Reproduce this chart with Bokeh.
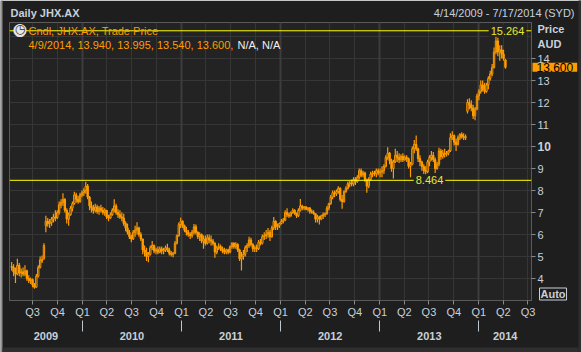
import pandas as pd
from bokeh.plotting import figure
from bokeh.layouts import column
from bokeh.models import (Range1d, FixedTicker, LinearAxis, Span, Label, Grid,
                          ColumnDataSource, Column, BoxAnnotation)
from bokeh.embed import file_html
from bokeh.resources import INLINE

# ---------------- data ----------------
TITLE = "Daily JHX.AX"
DATE_RANGE = "4/14/2009 - 7/17/2014 (SYD)"
LEGEND_1 = "Cndl, JHX.AX, Trade Price"
LEGEND_2 = "4/9/2014, 13.940, 13.995, 13.540, 13.600, "
LEGEND_NA = "N/A, N/A"
HIGH_LEVEL = 15.264
LOW_LEVEL = 8.464
LAST_PRICE = 13.600
Y_TICKS = [4, 5, 6, 7, 8, 9, 10, 11, 12, 13, 14]
Y_GRID = [4, 5, 6, 7, 8, 9, 10, 11, 12, 13, 14, 15]
YEAR_LABELS = ["2009", "2010", "2011", "2012", "2013", "2014"]
AXIS_START = "2009-04-07"
AXIS_END = "2014-07-14"
FIRST_WEEK = "2009-04-15"   # weekly candles (Wednesdays)
LAST_WEEK = "2014-04-09"

# weekly (open, high, low, close)
ohlc_2009 = [
    (4.55, 4.75, 4.35, 4.50), (4.50, 4.65, 4.10, 4.30), (4.30, 4.50, 3.80, 4.20),
    (4.20, 4.90, 4.15, 4.60), (4.60, 4.70, 4.10, 4.25), (4.25, 4.45, 4.05, 4.30),
    (4.30, 4.50, 4.10, 4.20), (4.20, 4.60, 4.10, 4.35), (4.35, 4.40, 3.90, 4.00),
    (4.00, 4.15, 3.80, 3.90), (3.90, 4.05, 3.75, 3.95), (3.95, 4.00, 3.60, 3.70),
    (3.70, 3.80, 3.53, 3.60), (3.60, 4.20, 3.60, 4.10), (4.10, 4.60, 4.05, 4.50),
    (4.50, 5.00, 4.45, 4.85), (4.85, 5.05, 4.70, 4.80), (4.90, 5.60, 4.85, 5.50),
    (6.40, 6.85, 6.10, 6.60), (6.60, 6.75, 6.35, 6.50), (6.50, 6.70, 6.30, 6.55),
    (6.55, 6.80, 6.40, 6.70), (6.70, 6.95, 6.55, 6.80), (6.80, 7.10, 6.60, 6.75),
    (6.75, 7.10, 6.70, 7.00), (7.00, 7.50, 6.90, 7.35), (7.35, 7.60, 7.20, 7.45),
    (7.45, 7.88, 7.30, 7.60), (7.60, 7.65, 7.00, 7.10), (7.10, 7.20, 6.50, 6.70),
    (6.70, 7.00, 6.40, 6.90), (6.90, 7.30, 6.85, 7.20), (7.20, 7.50, 7.05, 7.40),
    (7.40, 7.95, 7.35, 7.80), (7.80, 7.90, 7.45, 7.60), (7.60, 7.75, 7.40, 7.50),
    (7.50, 7.90, 7.45, 7.80), (7.80, 8.00, 7.70, 7.90),
]
ohlc_2010 = [
    (7.90, 8.10, 7.75, 8.00), (8.00, 8.40, 7.85, 8.20), (8.20, 8.30, 7.60, 7.70),
    (7.70, 7.75, 7.10, 7.30), (7.30, 7.50, 7.00, 7.20), (7.20, 7.35, 6.95, 7.10),
    (7.10, 7.40, 7.00, 7.25), (7.25, 7.35, 6.95, 7.05), (7.05, 7.30, 6.90, 7.20),
    (7.20, 7.35, 7.00, 7.10), (7.10, 7.25, 6.90, 7.00), (7.00, 7.20, 6.85, 7.10),
    (7.10, 7.10, 6.70, 6.80), (6.80, 6.90, 6.60, 6.75), (6.75, 7.00, 6.70, 6.90),
    (6.90, 7.20, 6.85, 7.10), (7.10, 7.60, 7.00, 7.30), (7.30, 7.40, 6.90, 7.00),
    (7.00, 7.15, 6.75, 6.90), (6.90, 7.10, 6.70, 6.80), (6.80, 7.00, 6.60, 6.75),
    (6.75, 6.95, 6.40, 6.50), (6.50, 6.60, 6.15, 6.30), (6.30, 6.50, 6.00, 6.10),
    (6.10, 6.20, 5.80, 5.90), (5.90, 6.00, 5.65, 5.80), (5.80, 6.20, 5.75, 6.10),
    (6.10, 6.40, 5.90, 6.20), (6.20, 6.56, 6.00, 6.30), (6.30, 6.35, 5.90, 6.00),
    (6.00, 6.10, 5.70, 5.80), (5.80, 5.80, 5.10, 5.30), (5.30, 5.50, 5.00, 5.20),
    (5.20, 5.40, 4.80, 5.00), (5.00, 5.20, 4.74, 5.10), (5.10, 5.50, 5.05, 5.40),
    (5.40, 5.70, 5.30, 5.50), (5.50, 5.55, 5.15, 5.25), (5.25, 5.40, 5.10, 5.30),
    (5.30, 5.45, 5.10, 5.20), (5.20, 5.45, 5.15, 5.35), (5.35, 5.45, 5.10, 5.25),
    (5.25, 5.40, 5.10, 5.30), (5.30, 5.50, 5.20, 5.40), (5.40, 5.58, 5.20, 5.30),
    (5.30, 5.40, 5.05, 5.15), (5.15, 5.25, 5.00, 5.10), (5.10, 5.20, 4.97, 5.15),
    (5.15, 5.70, 5.10, 5.60), (5.60, 6.00, 5.55, 5.95), (5.95, 6.55, 5.90, 6.45),
    (6.45, 6.76, 6.30, 6.60),
]
ohlc_2011 = [
    (6.60, 6.65, 6.30, 6.40), (6.40, 6.45, 6.10, 6.20), (6.20, 6.35, 5.95, 6.10),
    (6.10, 6.20, 5.90, 6.00), (6.00, 6.10, 5.80, 5.95), (5.95, 6.20, 5.85, 6.10),
    (6.10, 6.48, 6.00, 6.35), (6.35, 6.45, 6.00, 6.10), (6.10, 6.15, 5.80, 5.90),
    (5.90, 6.10, 5.70, 6.00), (6.00, 6.05, 5.60, 5.70), (5.70, 5.95, 5.35, 5.80),
    (5.80, 5.95, 5.50, 5.60), (5.60, 6.00, 5.55, 5.85), (5.85, 6.00, 5.60, 5.75),
    (5.75, 5.95, 5.50, 5.70), (5.70, 5.80, 5.50, 5.60), (5.60, 5.65, 4.94, 5.20),
    (5.20, 5.50, 5.10, 5.40), (5.40, 5.60, 5.30, 5.45), (5.45, 5.55, 5.25, 5.35),
    (5.35, 5.45, 5.15, 5.25), (5.25, 5.40, 5.10, 5.20), (5.20, 5.35, 5.10, 5.30),
    (5.30, 5.35, 5.10, 5.20), (5.20, 5.50, 5.15, 5.45), (5.45, 5.65, 5.35, 5.60),
    (5.60, 5.65, 5.35, 5.45), (5.45, 5.65, 5.35, 5.55), (5.55, 5.60, 5.20, 5.30),
    (5.30, 5.35, 4.80, 4.90), (4.90, 5.20, 4.36, 5.00), (5.00, 5.30, 4.85, 5.10),
    (5.10, 5.50, 5.00, 5.40), (5.40, 5.60, 5.20, 5.50), (5.50, 5.90, 5.40, 5.75),
    (5.75, 5.85, 5.45, 5.55), (5.55, 5.60, 5.20, 5.35), (5.35, 5.50, 5.20, 5.40),
    (5.40, 5.55, 5.20, 5.35), (5.35, 5.75, 5.30, 5.65), (5.65, 5.80, 5.50, 5.60),
    (5.60, 6.00, 5.55, 5.90), (5.90, 6.10, 5.75, 5.95), (5.95, 6.20, 5.80, 6.00),
    (6.00, 6.30, 5.85, 6.10), (6.10, 6.20, 5.70, 5.90), (5.90, 6.40, 5.85, 6.30),
    (6.30, 6.80, 6.20, 6.60), (6.60, 6.65, 6.20, 6.35), (6.35, 6.50, 6.20, 6.40),
    (6.40, 6.55, 6.30, 6.50),
]
ohlc_2012 = [
    (6.50, 6.70, 6.45, 6.60), (6.60, 6.75, 6.50, 6.65), (6.65, 7.10, 6.60, 7.00),
    (7.00, 7.20, 6.80, 6.90), (6.90, 7.00, 6.75, 6.85), (6.85, 7.05, 6.80, 7.00),
    (7.00, 7.20, 6.95, 7.10), (7.10, 7.15, 6.90, 6.95), (6.95, 7.00, 6.75, 6.85),
    (6.85, 7.20, 6.80, 7.10), (7.10, 7.62, 7.05, 7.30), (7.30, 7.35, 7.10, 7.20),
    (7.20, 7.30, 7.10, 7.25), (7.25, 7.30, 7.10, 7.15), (7.15, 7.25, 7.05, 7.20),
    (7.20, 7.25, 6.95, 7.05), (7.05, 7.15, 6.95, 7.00), (7.00, 7.10, 6.90, 6.95),
    (6.95, 6.95, 6.55, 6.70), (6.70, 6.90, 6.55, 6.80), (6.80, 6.85, 6.45, 6.70),
    (6.70, 6.90, 6.65, 6.85), (6.85, 7.00, 6.70, 6.90), (6.90, 7.00, 6.80, 6.95),
    (6.95, 7.30, 6.90, 7.20), (7.20, 7.45, 7.10, 7.40), (7.40, 7.80, 7.35, 7.70),
    (7.70, 8.00, 7.60, 7.90), (7.90, 8.00, 7.70, 7.85), (7.85, 8.05, 7.75, 7.95),
    (7.95, 8.20, 7.85, 8.10), (8.10, 8.15, 7.50, 7.60), (7.60, 7.80, 7.17, 7.50),
    (7.50, 8.00, 7.45, 7.95), (7.95, 8.20, 7.90, 8.10), (8.10, 8.40, 8.05, 8.30),
    (8.30, 8.45, 8.15, 8.35), (8.35, 8.50, 8.20, 8.30), (8.30, 8.60, 8.20, 8.50),
    (8.50, 8.60, 8.25, 8.40), (8.40, 8.70, 8.35, 8.60), (8.60, 9.00, 8.50, 8.90),
    (8.90, 9.00, 8.60, 8.70), (8.70, 8.90, 8.60, 8.80), (8.80, 8.85, 8.40, 8.50),
    (8.50, 8.55, 7.90, 8.20), (8.20, 8.60, 8.10, 8.50), (8.50, 8.85, 8.45, 8.75),
    (8.75, 8.90, 8.60, 8.80), (8.80, 8.90, 8.65, 8.75), (8.75, 9.00, 8.60, 8.90),
    (8.90, 9.00, 8.70, 8.80), (8.80, 9.00, 8.60, 8.85),
]
ohlc_2013 = [
    (8.85, 9.10, 8.60, 8.90), (8.90, 9.20, 8.75, 9.10), (9.10, 9.60, 9.05, 9.50),
    (9.50, 9.97, 9.40, 9.70), (9.70, 9.75, 9.20, 9.35), (9.35, 9.45, 8.85, 9.00),
    (9.00, 9.40, 8.55, 9.30), (9.30, 9.90, 9.25, 9.60), (9.60, 9.80, 9.30, 9.50),
    (9.50, 9.70, 9.25, 9.40), (9.40, 9.65, 9.30, 9.55), (9.55, 9.70, 9.30, 9.40),
    (9.40, 9.60, 9.35, 9.50), (9.50, 9.60, 9.30, 9.45), (9.45, 9.50, 9.00, 9.10),
    (9.10, 9.30, 8.60, 9.20), (9.20, 10.00, 9.15, 9.90), (9.90, 10.30, 9.70, 10.10),
    (10.10, 10.50, 9.80, 9.90), (9.90, 9.95, 9.30, 9.45), (9.45, 9.60, 9.10, 9.30),
    (9.30, 9.35, 8.90, 9.10), (9.10, 9.20, 8.75, 8.90), (8.90, 9.10, 8.50, 8.85),
    (8.85, 9.40, 8.80, 9.30), (9.30, 9.60, 9.10, 9.50), (9.50, 9.80, 9.35, 9.60),
    (9.60, 9.75, 9.30, 9.40), (9.40, 9.50, 8.80, 9.00), (9.00, 9.30, 8.95, 9.20),
    (9.20, 9.95, 9.10, 9.80), (9.80, 9.90, 9.40, 9.55), (9.55, 9.85, 9.45, 9.70),
    (9.70, 9.90, 9.50, 9.65), (9.65, 9.80, 9.55, 9.70), (9.70, 9.85, 9.60, 9.80),
    (9.80, 10.60, 9.75, 10.40), (10.40, 10.70, 10.30, 10.50), (10.50, 10.55, 10.05, 10.20),
    (10.20, 10.35, 9.80, 10.10), (10.10, 10.50, 10.05, 10.40), (10.40, 10.60, 10.30, 10.55),
    (10.55, 10.65, 10.35, 10.45), (10.45, 10.60, 10.30, 10.40), (10.40, 10.55, 10.30, 10.45),
    (11.60, 12.15, 11.50, 12.00), (12.00, 12.20, 11.70, 11.90), (11.90, 12.10, 11.60, 11.75),
    (11.75, 11.90, 11.25, 11.40), (11.40, 11.80, 11.20, 11.70), (11.70, 12.40, 11.65, 12.30),
    (12.30, 12.60, 12.10, 12.50),
]
ohlc_2014 = [
    (12.50, 13.00, 12.40, 12.80), (12.80, 13.00, 12.50, 12.60), (12.60, 12.90, 12.40, 12.50),
    (12.50, 12.90, 12.45, 12.80), (12.80, 13.20, 12.60, 13.10), (13.10, 13.45, 13.00, 13.30),
    (13.30, 13.75, 13.20, 13.60), (13.60, 14.50, 13.55, 14.30), (14.30, 15.264, 14.20, 14.80),
    (14.80, 14.95, 14.10, 14.30), (14.30, 14.60, 13.90, 14.40), (14.40, 14.60, 14.00, 14.20),
    (14.20, 14.40, 13.90, 14.00), (13.94, 13.995, 13.54, 13.60),
]

# ---------------- style ----------------
FONT = "Liberation Sans"
FS = "11px"
ORANGE = "#ff9c00"
YELLOW = "#ffff00"
YELLOW_TXT = "#e8e830"
TXT = "#c8d0da"
PLOT_BG = "#232323"
BORDER_BG = "#1e1e1e"
GRID = "#363636"
FRAME_L, FRAME_R, FRAME_T, FRAME_B = 9, 531, 22, 300
W, H = 581, 352
Y0, Y1 = 3.0, 15.64

rows = ohlc_2009 + ohlc_2010 + ohlc_2011 + ohlc_2012 + ohlc_2013 + ohlc_2014
dates = pd.date_range(FIRST_WEEK, LAST_WEEK, freq="W-WED")
assert len(dates) == len(rows), (len(dates), len(rows))
o = [r[0] for r in rows]
h = [r[1] for r in rows]
l = [r[2] for r in rows]
c = [r[3] for r in rows]
up = [ci >= oi for oi, ci in zip(o, c)]
src = ColumnDataSource(dict(
    x=dates, high=h, low=l,
    top=[max(a, b) for a, b in zip(o, c)],
    bottom=[min(a, b) for a, b in zip(o, c)],
    fill=[PLOT_BG if u else ORANGE for u in up],
))

x0 = pd.Timestamp(AXIS_START)
x1 = pd.Timestamp(AXIS_END)
p = figure(width=W, height=H, x_axis_type="datetime", y_axis_location="right",
           x_range=Range1d(x0, x1), y_range=Range1d(Y0, Y1),
           output_backend="svg", toolbar_location=None,
           min_border_left=FRAME_L, min_border_right=W - FRAME_R,
           min_border_top=FRAME_T, min_border_bottom=H - FRAME_B)
p.background_fill_color = PLOT_BG
p.border_fill_color = BORDER_BG
p.outline_line_color = "#5a5a5a"

def ms(ts):
    return pd.Timestamp(ts).value / 1e6

# quarter ticks
quarters = pd.date_range("2009-07-01", "2014-07-01", freq="QS")
q_ticks = [ms(t) for t in quarters]
q_labels = {ms(t): "Q%d" % ((t.month - 1) // 3 + 1) for t in quarters}
jan1 = [t for t in quarters if t.month == 1]

xa = p.xaxis[0]
xa.ticker = FixedTicker(ticks=q_ticks)
xa.major_label_overrides = q_labels
xa.major_tick_out = 4
xa.major_tick_in = 0
xa.major_tick_line_color = "#8a8a8a"
xa.axis_line_color = "#5a5a5a"
xa.major_label_standoff = 1
xa.major_label_text_font = FONT
xa.major_label_text_font_size = FS
xa.major_label_text_color = TXT

# year axis
bounds = [x0] + jan1 + [x1]
mids = [(ms(a) + ms(b)) / 2 for a, b in zip(bounds[:-1], bounds[1:])]
ya2 = LinearAxis(ticker=FixedTicker(ticks=mids, minor_ticks=[ms(t) for t in jan1]),
                 major_label_overrides={m: s for m, s in zip(mids, YEAR_LABELS)})
ya2.axis_line_color = None
ya2.major_tick_line_color = None
ya2.major_tick_out = 0
ya2.major_tick_in = 0
ya2.minor_tick_out = 11
ya2.minor_tick_in = 0
ya2.minor_tick_line_color = "#bfc6cf"
ya2.major_label_standoff = 0
ya2.major_label_text_font = FONT
ya2.major_label_text_font_size = FS
ya2.major_label_text_font_style = "bold"
ya2.major_label_text_color = TXT
p.add_layout(ya2, "below")

# right price axis
ya = p.yaxis[0]
ya.ticker = FixedTicker(ticks=Y_TICKS)
ya.major_label_overrides = {10: ""}
ya.major_tick_out = 4
ya.major_tick_in = 0
ya.minor_tick_line_color = None
ya.major_tick_line_color = "#8a8a8a"
ya.axis_line_color = "#5a5a5a"
ya.major_label_standoff = 2
ya.major_label_text_font = FONT
ya.major_label_text_font_size = FS
ya.major_label_text_color = TXT

# grids
p.xgrid.ticker = FixedTicker(ticks=q_ticks)
p.xgrid.grid_line_color = GRID
p.ygrid.ticker = FixedTicker(ticks=Y_GRID)
p.ygrid.grid_line_color = GRID
p.add_layout(Grid(dimension=0, ticker=FixedTicker(ticks=[ms(t) for t in jan1]),
                  grid_line_color="#3c3c3c", grid_line_width=2))

# level lines
p.add_layout(Span(location=HIGH_LEVEL, dimension="width", line_color=YELLOW, line_width=1))
p.add_layout(Span(location=LOW_LEVEL, dimension="width", line_color=YELLOW, line_width=1))

# candles
day = 86400000
p.segment(x0="x", y0="low", x1="x", y1="high", source=src, line_color=ORANGE, line_width=1.2)
p.vbar(x="x", width=5 * day, top="top", bottom="bottom", source=src,
       fill_color="fill", line_color=ORANGE, line_width=1)

def level_label(val, cx):
    p.add_layout(Label(x=cx - FRAME_L, y=val, x_units="screen", y_units="data",
                       text="%.3f" % val, text_font=FONT, text_font_size=FS,
                       text_color=YELLOW_TXT, text_align="center", text_baseline="middle",
                       background_fill_color=PLOT_BG, padding=2))

level_label(HIGH_LEVEL, 507)
level_label(LOW_LEVEL, 429)

# ---------------- transparent overlay (full-canvas frame) for the texts ----------------
PX = (FRAME_B - FRAME_T) / (Y1 - Y0)       # pixels per price unit of the main plot
OV_Y0 = Y0 - (H - FRAME_B) / PX
OV_Y1 = Y1 + FRAME_T / PX
ov = figure(width=W, height=H, output_backend="svg", toolbar_location=None,
            x_axis_type=None, y_axis_type=None,
            x_range=Range1d(0, W), y_range=Range1d(OV_Y0, OV_Y1),
            min_border=0, min_border_left=0, min_border_right=0,
            min_border_top=0, min_border_bottom=0)
ov.background_fill_color = None
ov.border_fill_color = None
ov.outline_line_color = None

def canvas_y(cy):
    return OV_Y1 - cy / PX

# panel edges
ov.add_layout(BoxAnnotation(left=-5, right=2, bottom=OV_Y0 - 1, top=OV_Y1 + 1,
                            fill_color="#8e8e8e", fill_alpha=1, line_color=None))
ov.add_layout(BoxAnnotation(left=578, right=W + 5, bottom=OV_Y0 - 1, top=OV_Y1 + 1,
                            fill_color="#2e2e2e", fill_alpha=1, line_color=None))
ov.add_layout(BoxAnnotation(left=2, right=578, bottom=OV_Y0 - 1, top=canvas_y(347),
                            fill_color="#2e2e2e", fill_alpha=1, line_color=None))

def lab(text, cx, cy, size=FS, color=TXT, style="normal", align="left",
        yunits="screen", font=FONT, **kw):
    y = cy if yunits == "data" else H - cy
    lb = Label(x=cx, y=y, x_units="screen", y_units=yunits, text=text,
               text_font=font, text_font_size=size, text_color=color,
               text_font_style=style, text_align=align, text_baseline="middle", **kw)
    ov.add_layout(lb)
    return lb

lab(TITLE, 10, 12, style="bold")
lab(DATE_RANGE, 574, 12, align="right")
lab("\u25cf", 19.5, 28.5, size="17px", color="#e6e6e6", align="center", font="DejaVu Sans")
lab("\u25f7", 19.5, 28.5, size="12px", color="#303030", align="center", font="DejaVu Sans")
lab(LEGEND_1, 28, 30, color=ORANGE)
lab(LEGEND_2, 28, 44, color=ORANGE)
lab(LEGEND_NA, 237, 44, color="#f0f0f0")
lab("Price", 537, 28, style="bold")
lab("AUD", 537, 43, style="bold")
lab("10", 537, 10, size="12px", style="bold", yunits="data")
lab("%.3f" % LAST_PRICE, 532, LAST_PRICE, size="12px", color="#000000", yunits="data",
    background_fill_color=ORANGE, padding=dict(left=4, right=4, top=0, bottom=0))
lab("Auto", 539, 293.5, style="bold", border_line_color="#c8d0da",
    background_fill_color=BORDER_BG, padding=dict(left=1, right=1, top=0, bottom=0))

# wrap the overlay in its own box so its frame is not aligned with the main plot's
holder = Column(children=[ov], margin=(-H, 0, 0, 0), spacing=0)
layout = column(p, holder, spacing=0)
open("out.html", "w").write(file_html(layout, INLINE))
